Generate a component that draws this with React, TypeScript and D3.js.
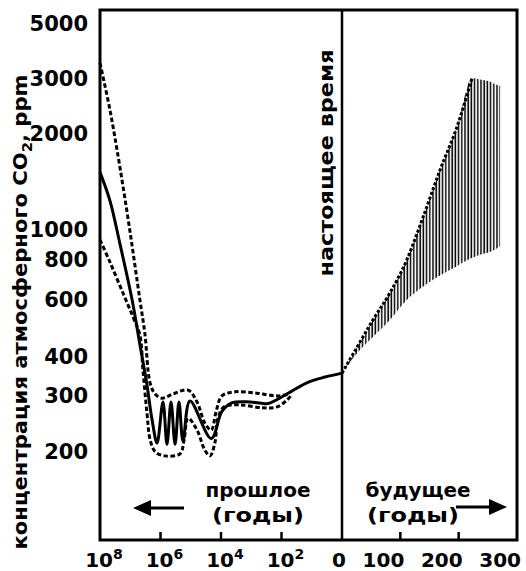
import * as d3 from "d3";

// CO2 concentration (ppm) against time, years before present (past, log) and years ahead (future)
const yTicks = [200, 300, 400, 600, 800, 1000, 2000, 3000, 5000];
const pastTicks = [1e8, 1e6, 1e4, 1e2];
const pastTickExp = ["8", "6", "4", "2"];
const futureTicks = [0, 100, 200, 300];

// [years ago, ppm]
const pastMean: [number, number][] = [
  [1e8, 1510], [4.7e7, 1230], [2.2e7, 900], [8.7e6, 600], [4.8e6, 435], [2.8e6, 324],
  [1.9e6, 251], [1.3e6, 212], [8.3e5, 286], [6.1e5, 210], [4.5e5, 286], [3.3e5, 210],
  [2.45e5, 286], [1.8e5, 215], [1.06e5, 288], [2.1e4, 219], [9.3e3, 267], [4.4e3, 284],
  [1.1e3, 286], [280, 283], [76, 301], [14.5, 329], [3.6, 343], [1, 353],
];
const pastHigh: [number, number][] = [
  [1e8, 3450], [4.7e7, 2380], [2.2e7, 1570], [1.0e7, 970], [4.8e6, 600], [3.3e6, 472],
  [2.2e6, 328], [1.5e6, 303], [8.9e5, 294], [3.9e5, 303], [1.23e5, 312], [6.2e4, 286],
  [3.4e4, 245], [2.1e4, 233], [1.46e4, 266], [9.3e3, 299], [3.4e3, 308], [650, 305],
  [141, 299], [52, 303],
];
const pastLow: [number, number][] = [
  [1e8, 925], [4.7e7, 788], [1.74e7, 630], [8.1e6, 530], [4.8e6, 465], [3.8e6, 361],
  [2.8e6, 264], [2.2e6, 217], [1.5e6, 199], [7.1e5, 193], [2.26e5, 196], [1.66e5, 217],
  [1.23e5, 254], [6.2e4, 233], [3.4e4, 201], [2.3e4, 193], [1.58e4, 213], [1.26e4, 254],
  [7.9e3, 276], [2.35e3, 280], [410, 274], [141, 276], [66, 290], [45, 303],
];

// future band: years from now, upper / lower ppm
const futureYears = [0, 26, 53, 82, 111, 139, 168, 197, 223, 237, 252, 266, 271];
const futureHigh = [353, 427, 519, 630, 800, 1091, 1536, 2100, 3000, 2970, 2930, 2850, 2830];
const futureLow = [353, 409, 459, 519, 599, 660, 715, 765, 812, 830, 845, 870, 885];

const left = 100, right = 517, top = 10, bottom = 540, divider = 342;
const font = "'DejaVu Sans', sans-serif";

const x = d3.scaleLog().domain([1e8, 1]).range([left, divider]);
const xf = d3.scaleLinear().domain([0, 300]).range([divider, right]);
// hand-drawn axis: piecewise log scale through the labelled ticks
const y = d3.scaleLog().domain([200, 400, 1000, 3000, 5000]).range([451, 356, 229, 78, 23]);

const pastLine = d3.line<[number, number]>()
  .x(d => x(d[0]))
  .y(d => y(d[1]))
  .curve(d3.curveCatmullRom);

const futureData = futureYears.map((t, i) => ({ t, hi: futureHigh[i], lo: futureLow[i] }));
const band = d3.area<{ t: number; hi: number; lo: number }>()
  .x(d => xf(d.t))
  .y0(d => y(d.lo))
  .y1(d => y(d.hi))
  .curve(d3.curveMonotoneX);
const bandTop = d3.line<{ t: number; hi: number; lo: number }>()
  .x(d => xf(d.t))
  .y(d => y(d.hi))
  .curve(d3.curveMonotoneX);

export default function App() {
  return (
    <svg width={526} height={571} style={{ display: "block", position: "absolute", left: 0, top: 0 }}>
      <defs>
        <pattern id="hatch" width={3.2} height={10} patternUnits="userSpaceOnUse">
          <line x1={1} y1={0} x2={1} y2={10} stroke="#000" strokeWidth={1.5} />
        </pattern>
      </defs>
      <rect width={526} height={571} fill="#fff" />

      {/* future band */}
      <path d={band(futureData) || ""} fill="url(#hatch)" />
      <path d={bandTop(futureData.filter(d => d.t <= 223)) || ""} fill="none" stroke="#000" strokeWidth={3} strokeDasharray="3,2" />

      {/* past curves */}
      <path d={pastLine(pastHigh) || ""} fill="none" stroke="#000" strokeWidth={3} strokeDasharray="4.5,2.5" />
      <path d={pastLine(pastLow) || ""} fill="none" stroke="#000" strokeWidth={3} strokeDasharray="4.5,2.5" />
      <path d={pastLine(pastMean) || ""} fill="none" stroke="#000" strokeWidth={3} />

      {/* frame */}
      <rect x={left} y={top} width={right - left} height={bottom - top} fill="none" stroke="#000" strokeWidth={3} />
      <line x1={divider} x2={divider} y1={top} y2={bottom} stroke="#000" strokeWidth={2.5} />

      {/* x ticks */}
      {pastTicks.slice(1).map(v => (
        <line key={"pt" + v} x1={x(v)} x2={x(v)} y1={bottom} y2={bottom - 8} stroke="#000" strokeWidth={2.5} />
      ))}
      {futureTicks.slice(1, 3).map(v => (
        <line key={"ft" + v} x1={xf(v)} x2={xf(v)} y1={bottom} y2={bottom - 8} stroke="#000" strokeWidth={2.5} />
      ))}

      <g fontFamily={font} fontWeight="bold" fill="#000">
        {yTicks.map(v => (
          <text key={"y" + v} x={88} y={y(v)} dy="0.36em" textAnchor="end" fontSize={21}>{v}</text>
        ))}
        {pastTicks.map((v, i) => (
          <text key={"xl" + v} x={x(v) + 4} y={567} textAnchor="middle" fontSize={20}>
            10<tspan fontSize={14} dy={-8}>{pastTickExp[i]}</tspan>
          </text>
        ))}
        {futureTicks.map(v => (
          <text key={"fl" + v} x={xf(v) + 4} y={567} textAnchor="end" fontSize={20}>{v}</text>
        ))}

        <text transform="translate(27,312) rotate(-90)" textAnchor="middle" fontSize={20} textLength={475} lengthAdjust="spacingAndGlyphs">
          концентрация атмосферного CO<tspan fontSize={14} dy={5}>2</tspan><tspan dy={-5}>, ppm</tspan>
        </text>
        <text transform="translate(333,163) rotate(-90)" textAnchor="middle" fontSize={20} textLength={227} lengthAdjust="spacingAndGlyphs">
          настоящее время
        </text>

        <text x={258} y={497} textAnchor="middle" fontSize={20} textLength={105} lengthAdjust="spacingAndGlyphs">прошлое</text>
        <text x={258} y={522} textAnchor="middle" fontSize={20} textLength={92} lengthAdjust="spacingAndGlyphs">(годы)</text>
        <text x={418} y={497} textAnchor="middle" fontSize={20} textLength={105} lengthAdjust="spacingAndGlyphs">будущее</text>
        <text x={413} y={522} textAnchor="middle" fontSize={20} textLength={92} lengthAdjust="spacingAndGlyphs">(годы)</text>
      </g>

      {/* arrows */}
      <line x1={148} x2={184} y1={508} y2={508} stroke="#000" strokeWidth={3} />
      <path d="M133,508 L151,500 L151,516 Z" fill="#000" />
      <line x1={456} x2={492} y1={507} y2={507} stroke="#000" strokeWidth={3} />
      <path d="M507,507 L489,499 L489,515 Z" fill="#000" />
    </svg>
  );
}
